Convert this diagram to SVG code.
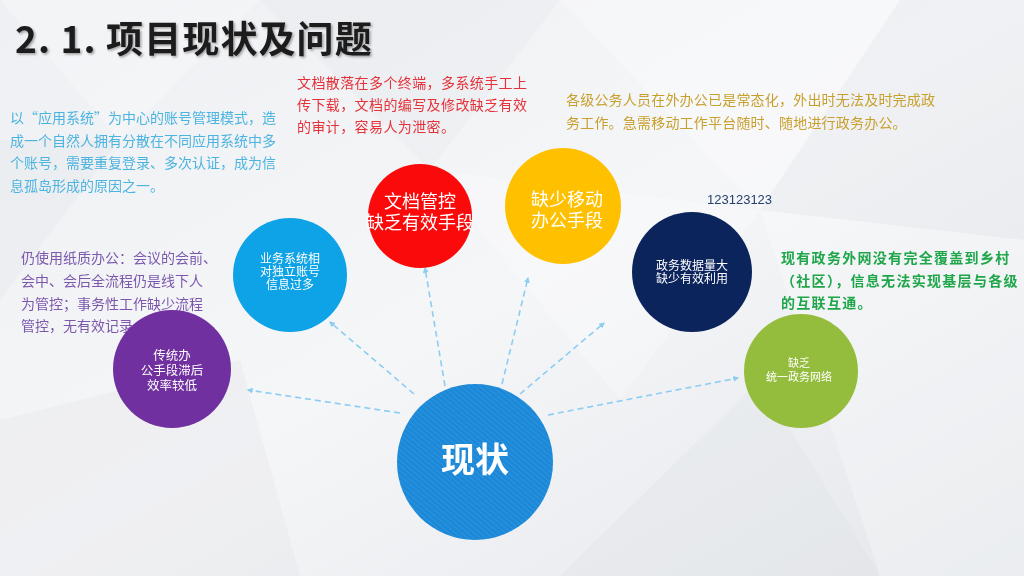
<svg xmlns="http://www.w3.org/2000/svg" width="1024" height="576" viewBox="0 0 1024 576">
<defs>
<linearGradient id="bg" x1="0" y1="0" x2="1" y2="1">
<stop offset="0" stop-color="#eef0f3"/>
<stop offset="0.5" stop-color="#f5f6f8"/>
<stop offset="1" stop-color="#e4e7eb"/>
</linearGradient>
<pattern id="stripes" width="4" height="4" patternUnits="userSpaceOnUse" patternTransform="rotate(-50)">
<rect width="4" height="4" fill="#1c88d8"/>
<line x1="0" y1="0" x2="0" y2="4" stroke="#3398e0" stroke-width="1.4"/>
</pattern>
<marker id="arr" viewBox="0 0 10 10" refX="8" refY="5" markerWidth="6" markerHeight="6" orient="auto" markerUnits="userSpaceOnUse">
<path d="M0,0 L10,5 L0,10 z" fill="#8ecdf2"/>
</marker>
<filter id="shadow" x="-5%" y="-20%" width="110%" height="140%">
<feDropShadow dx="1.5" dy="1.5" stdDeviation="1" flood-color="#000" flood-opacity="0.35"/>
</filter>
</defs>
<style>
.cn{font-family:"Noto Sans CJK SC","Noto Sans",sans-serif}
.para{font-size:14px}
.ct{fill:#fff;text-anchor:middle}
.conn{stroke:#8ecdf2;stroke-width:1.6;stroke-dasharray:6 4;fill:none;marker-end:url(#arr)}
</style>
<rect width="1024" height="576" fill="url(#bg)"/>
<g id="background" opacity="0.5">
<polygon points="0,0 260,0 120,140" fill="#ffffff" opacity="0.5"/>
<polygon points="260,0 560,0 430,170" fill="#e2e5e9" opacity="0.5"/>
<polygon points="560,0 900,0 760,210" fill="#ffffff" opacity="0.6"/>
<polygon points="900,0 1024,0 1024,240 760,210" fill="#e0e3e8" opacity="0.5"/>
<polygon points="760,210 1024,240 1024,576 880,576" fill="#ffffff" opacity="0.5"/>
<polygon points="430,170 760,210 620,400" fill="#ffffff" opacity="0.5"/>
<polygon points="0,420 240,360 300,576 0,576" fill="#dfe2e6" opacity="0.5"/>
<polygon points="560,576 880,576 760,380" fill="#dcdfe4" opacity="0.5"/>
<polygon points="0,140 120,140 0,300" fill="#e1e4e8" opacity="0.6"/>
</g>
<text x="15" y="53" class="cn" font-size="37" font-weight="bold" letter-spacing="1.1" fill="#1a1a1a" filter="url(#shadow)">2. 1. 项目现状及问题</text>
<g id="texts" class="cn para">
<g fill="#4cb4e0">
<text x="10" y="123">以“应用系统”为中心的账号管理模式，造</text>
<text x="10" y="145.5">成一个自然人拥有分散在不同应用系统中多</text>
<text x="10" y="168">个账号，需要重复登录、多次认证，成为信</text>
<text x="10" y="190.5">息孤岛形成的原因之一。</text>
</g>
<g fill="#e5323a" letter-spacing="0.4">
<text x="297" y="88">文档散落在多个终端，多系统手工上</text>
<text x="297" y="110">传下载，文档的编写及修改缺乏有效</text>
<text x="297" y="132">的审计，容易人为泄密。</text>
</g>
<g fill="#c8a02e" letter-spacing="0.2">
<text x="566" y="105">各级公务人员在外办公已是常态化，外出时无法及时完成政</text>
<text x="566" y="128">务工作。急需移动工作平台随时、随地进行政务办公。</text>
</g>
<g fill="#7c58ad">
<text x="21" y="263">仍使用纸质办公：会议的会前、</text>
<text x="21" y="286">会中、会后全流程仍是线下人</text>
<text x="21" y="309">为管控；事务性工作缺少流程</text>
<text x="21" y="331">管控，无有效记录</text>
</g>
<g fill="#1fa64a" font-weight="bold" letter-spacing="1.3">
<text x="781" y="263">现有政务外网没有完全覆盖到乡村</text>
<text x="781" y="286">（社区），信息无法实现基层与各级</text>
<text x="781" y="308">的互联互通。</text>
</g>
<text x="707" y="204" font-family="'Liberation Sans',sans-serif" font-size="13" fill="#253f6e">123123123</text>
</g>
<g id="connectors">
<line class="conn" x1="400" y1="413" x2="248" y2="390"/>
<line class="conn" x1="414" y1="394" x2="330" y2="322"/>
<line class="conn" x1="445" y1="386" x2="425" y2="268"/>
<line class="conn" x1="502" y1="384" x2="528" y2="278"/>
<line class="conn" x1="520" y1="394" x2="604" y2="323"/>
<line class="conn" x1="548" y1="415" x2="738" y2="378"/>
</g>
<g id="node-purple">
<circle cx="172" cy="369" r="59" fill="#7030a0"/>
<text class="cn ct" font-size="12.5"><tspan x="172" y="360">传统办</tspan><tspan x="172" y="375">公手段滞后</tspan><tspan x="172" y="390">效率较低</tspan></text>
</g>
<g id="node-blue">
<circle cx="290" cy="275" r="57" fill="#0ea2e6"/>
<text class="cn ct" font-size="12"><tspan x="290" y="263">业务系统相</tspan><tspan x="290" y="276">对独立账号</tspan><tspan x="290" y="289">信息过多</tspan></text>
</g>
<g id="node-red">
<circle cx="420" cy="216" r="52" fill="#fa0a0a"/>
<text class="cn ct" font-size="18"><tspan x="420" y="208">文档管控</tspan><tspan x="420" y="229">缺乏有效手段</tspan></text>
</g>
<g id="node-yellow">
<circle cx="563" cy="206" r="58" fill="#ffc000"/>
<text class="cn ct" font-size="18"><tspan x="567" y="206">缺少移动</tspan><tspan x="567" y="227">办公手段</tspan></text>
</g>
<g id="node-navy">
<circle cx="692" cy="272" r="60" fill="#0b245c"/>
<text class="cn ct" font-size="12"><tspan x="692" y="270">政务数据量大</tspan><tspan x="692" y="283">缺少有效利用</tspan></text>
</g>
<g id="node-green">
<circle cx="801" cy="371" r="57" fill="#95bd3d"/>
<text class="cn ct" font-size="11"><tspan x="799" y="367">缺乏</tspan><tspan x="799" y="381">统一政务网络</tspan></text>
</g>
<g id="node-main">
<circle cx="475" cy="462" r="78" fill="url(#stripes)"/>
<text x="475" y="472" class="cn ct" font-size="34" font-weight="bold">现状</text>
</g>
</svg>
